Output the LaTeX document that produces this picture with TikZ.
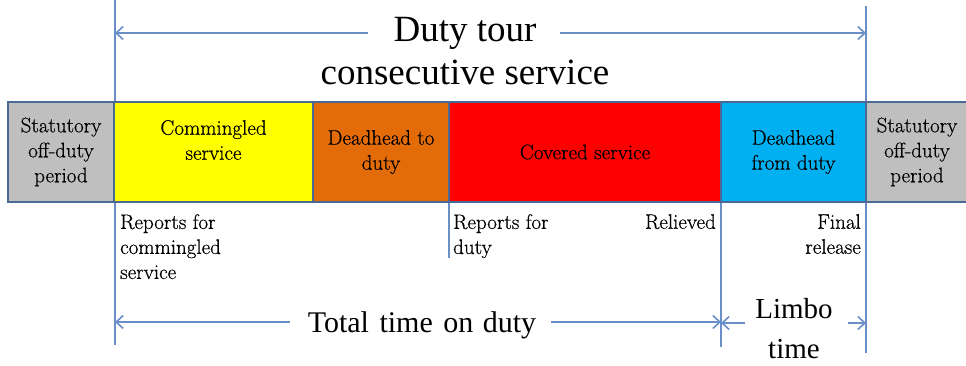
\documentclass[tikz,border=0pt]{standalone}
\usepackage{fontspec}
\newfontfamily\bigserif{Liberation Serif}
\newfontfamily\labserif{Latin Modern Roman}[FakeBold=0.5]
\usetikzlibrary{arrows.meta}
\definecolor{lineblue}{HTML}{6A8FC8}
\definecolor{edgeblue}{HTML}{4A6A95}
\definecolor{offgray}{HTML}{BFBFBF}
\definecolor{cmyellow}{HTML}{FFFF00}
\definecolor{dhorange}{HTML}{E36C09}
\definecolor{cvred}{HTML}{FF0000}
\definecolor{dfblue}{HTML}{00B0F0}
\begin{document}
\begin{tikzpicture}[x=1pt,y=-1pt,
 seg/.style={draw=edgeblue,line width=1.5pt,minimum height=100pt,inner sep=0pt,align=center,font=\labserif\fontsize{21}{25}\selectfont},
 small/.style={inner sep=0pt,font=\labserif\fontsize{21}{25}\selectfont},
 big/.style={inner sep=0pt,align=center},
 guide/.style={draw=lineblue,line width=2pt},
 arr/.style={draw=lineblue,line width=1.6pt,-{Straight Barb[length=7pt,width=13pt]}}]
\useasboundingbox (0,0) rectangle (966,366);

% guide coordinates
\coordinate (gAt) at (115,0);   \coordinate (gAb) at (115,345);
\coordinate (gDt) at (866,6);   \coordinate (gDb) at (866,353);
\coordinate (gCt) at (721,202); \coordinate (gCb) at (721,347);
\coordinate (gBt) at (449,202); \coordinate (gBb) at (449,258);
\draw[guide] (gAt) -- (gAb);
\draw[guide] (gDt) -- (gDb);
\draw[guide] (gCt) -- (gCb);
\draw[guide] (gBt) -- (gBb);

% bar
\node[seg,fill=offgray,minimum width=106pt] (off1) at (61,152) {Statutory\\off-duty\\period};
\node[seg,fill=cmyellow,minimum width=199pt] (comm) at (213.5,152) {};
\node[small,align=center] (commtxt) at (213.5,140) {Commingled\\service};
\node[seg,fill=dhorange,minimum width=136pt] (dhto) at (381,152) {Deadhead to\\duty};
\node[seg,fill=cvred,minimum width=272pt] (cov) at (585,152) {Covered service};
\node[seg,fill=dfblue,minimum width=145pt] (dhfrom) at (793.5,152) {Deadhead\\from duty};
\node[seg,fill=offgray,minimum width=102pt] (off2) at (917,152) {Statutory\\off-duty\\period};

% lower labels
\node[small,align=left,anchor=north west] (rep1) at (120,214) {Reports for\\commingled\\service};
\node[small,align=left,anchor=north west] (rep2) at (453,214) {Reports for\\duty};
\node[small,align=right,anchor=north east] (rel) at (716,214) {Relieved};
\node[small,align=right,anchor=north east] (fin) at (861,214) {Final\\release};

% big labels
\node[big,font=\bigserif\fontsize{37}{43}\selectfont,anchor=north] (duty) at (465,17) {Duty tour\\consecutive service};
\node[big,font=\bigserif\fontsize{30}{38}\selectfont,anchor=base] (total) at (422,332) {Total\hspace{3pt} time\hspace{3pt} on\hspace{2pt} duty};
\node[big,font=\bigserif\fontsize{29}{40}\selectfont,anchor=north] (limbo) at (794,298) {Limbo\\time};

% arrows
\coordinate (d1) at (368,33); \coordinate (d2) at (560,33);
\coordinate (t1) at (290,322); \coordinate (t2) at (551,322);
\coordinate (l1) at (745,323); \coordinate (l2) at (848,323);
\draw[arr] (d1) -- (d1 -| gAt);
\draw[arr] (d2) -- (d2 -| gDt);
\draw[arr] (t1) -- (t1 -| gAt);
\draw[arr] (t2) -- (t2 -| gCt);
\draw[arr] (l1) -- (l1 -| gCt);
\draw[arr] (l2) -- (l2 -| gDt);
\end{tikzpicture}
\end{document}
